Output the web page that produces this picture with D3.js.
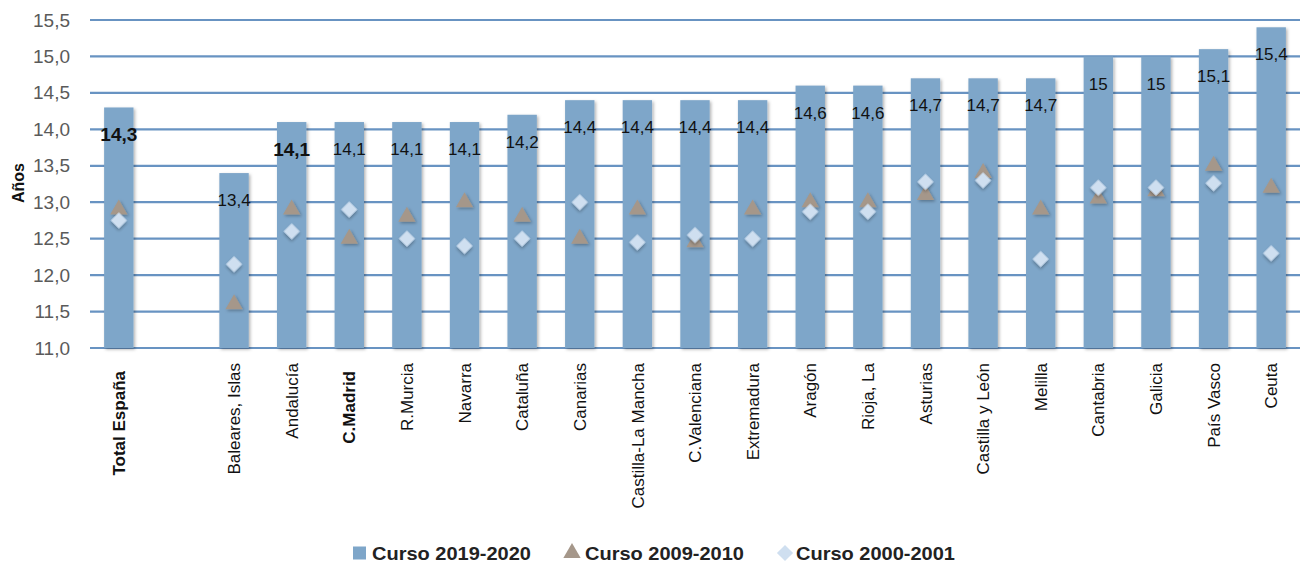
<!DOCTYPE html>
<html>
<head>
<meta charset="utf-8">
<script src="https://cdn.jsdelivr.net/npm/d3@7"></script>
<style>
  body { margin: 0; background: #fff; }
  svg { display: block; }
</style>
</head>
<body>
<div id="chart"></div>
<script>
var svgWidth = 1303;
var svgHeight = 566;

var margin = { top: 20, right: 3, bottom: 218, left: 90 };
var width = svgWidth - margin.left - margin.right;
var height = svgHeight - margin.top - margin.bottom;

// data (blank slot between Total España and the regions)
var categories = ["Total España", "", "Baleares, Islas", "Andalucía", "C.Madrid", "R.Murcia", "Navarra",
  "Cataluña", "Canarias", "Castilla-La Mancha", "C.Valenciana", "Extremadura", "Aragón", "Rioja, La",
  "Asturias", "Castilla y León", "Melilla", "Cantabria", "Galicia", "País Vasco", "Ceuta"];
var curso2019 = [14.3, null, 13.4, 14.1, 14.1, 14.1, 14.1, 14.2, 14.4, 14.4, 14.4, 14.4, 14.6, 14.6,
  14.7, 14.7, 14.7, 15, 15, 15.1, 15.4];
var curso2009 = [12.9, null, 11.6, 12.9, 12.5, 12.8, 13.0, 12.8, 12.5, 12.9, 12.45, 12.9, 13.0, 13.0,
  13.1, 13.4, 12.9, 13.05, 13.15, 13.5, 13.2];
var curso2000 = [12.75, null, 12.15, 12.6, 12.9, 12.5, 12.4, 12.5, 13.0, 12.45, 12.55, 12.5, 12.87, 12.87,
  13.28, 13.3, 12.22, 13.2, 13.2, 13.26, 12.3];
var yTicks = [11.0, 11.5, 12.0, 12.5, 13.0, 13.5, 14.0, 14.5, 15.0, 15.5];
var boldCategories = ["Total España", "C.Madrid"];
var boldValues = ["Total España", "Andalucía"];
var seriesNames = ["Curso 2019-2020", "Curso 2009-2010", "Curso 2000-2001"];

var barColor = "#7ea6c9";
var triColor = "#a5978a";
var diaColor = "#cfdff0";
var gridColor = "#6893c2";

var svg = d3.select("#chart")
  .append("svg")
  .attr("width", svgWidth)
  .attr("height", svgHeight);

var defs = svg.append("defs");
defs.append("filter").attr("id", "shadow")
  .attr("x", "-30%").attr("y", "-30%").attr("width", "160%").attr("height", "160%")
  .append("feDropShadow")
  .attr("dx", 1.5).attr("dy", 1.5).attr("stdDeviation", 1.5)
  .attr("flood-color", "#000").attr("flood-opacity", 0.3);

var chartGroup = svg.append("g")
  .attr("transform", `translate(${margin.left}, ${margin.top})`);

var x = d3.scaleBand()
  .domain(d3.range(categories.length))
  .range([0, width])
  .paddingInner(0.49)
  .paddingOuter(0.245);

var y = d3.scaleLinear()
  .domain([11, 15.5])
  .range([height, 0]);

// gridlines
chartGroup.append("g")
  .selectAll("line")
  .data(yTicks)
  .enter()
  .append("line")
  .attr("x1", 0)
  .attr("x2", width)
  .attr("y1", d => y(d))
  .attr("y2", d => y(d))
  .attr("stroke", gridColor)
  .attr("stroke-width", 2.2);

// y axis labels
var leftAxis = d3.axisLeft(y)
  .tickValues(yTicks)
  .tickSize(0)
  .tickPadding(20)
  .tickFormat(d => d3.format(".1f")(d).replace(".", ","));

var yAxis = chartGroup.append("g").call(leftAxis);
yAxis.select(".domain").remove();
yAxis.selectAll("text")
  .attr("font-family", "'Liberation Sans', Arial, sans-serif")
  .attr("font-size", 19)
  .attr("fill", "#5a5a5a");

// bars
chartGroup.append("g")
  .selectAll("rect")
  .data(curso2019.map((v, i) => ({ v: v, i: i })).filter(d => d.v !== null))
  .enter()
  .append("rect")
  .attr("x", d => x(d.i))
  .attr("width", x.bandwidth())
  .attr("y", d => y(d.v))
  .attr("height", d => height - y(d.v))
  .attr("fill", barColor)
  .attr("filter", "url(#shadow)");

// bar value labels
chartGroup.append("g")
  .selectAll("text")
  .data(curso2019.map((v, i) => ({ v: v, i: i })).filter(d => d.v !== null))
  .enter()
  .append("text")
  .attr("x", d => x(d.i) + x.bandwidth() / 2)
  .attr("y", d => y(d.v) + 27)
  .attr("dy", "0.36em")
  .attr("text-anchor", "middle")
  .attr("font-family", "'Liberation Sans', Arial, sans-serif")
  .attr("font-size", d => boldValues.includes(categories[d.i]) ? 19 : 17)
  .attr("font-weight", d => boldValues.includes(categories[d.i]) ? "bold" : "normal")
  .attr("fill", "#111")
  .text(d => String(d.v).replace(".", ","));

var triangle = d3.symbol().type(d3.symbolTriangle).size(130);
var diamond = d3.symbol().type(d3.symbolSquare).size(130);

// 2009-2010 triangles
chartGroup.append("g")
  .selectAll("path")
  .data(curso2009.map((v, i) => ({ v: v, i: i })).filter(d => d.v !== null))
  .enter()
  .append("path")
  .attr("d", triangle)
  .attr("transform", d => `translate(${x(d.i) + x.bandwidth() / 2}, ${y(d.v)})`)
  .attr("fill", triColor)
  .attr("filter", "url(#shadow)");

// 2000-2001 diamonds
chartGroup.append("g")
  .selectAll("path")
  .data(curso2000.map((v, i) => ({ v: v, i: i })).filter(d => d.v !== null))
  .enter()
  .append("path")
  .attr("d", diamond)
  .attr("transform", d => `translate(${x(d.i) + x.bandwidth() / 2}, ${y(d.v)}) rotate(45)`)
  .attr("fill", diaColor)
  .attr("filter", "url(#shadow)");

// category labels
chartGroup.append("g")
  .selectAll("text")
  .data(categories.map((c, i) => ({ c: c, i: i })).filter(d => d.c !== ""))
  .enter()
  .append("text")
  .attr("transform", d => {
    var bold = boldCategories.includes(d.c);
    return `translate(${x(d.i) + x.bandwidth() / 2}, ${height + (bold ? 23 : 15)}) rotate(-90)`;
  })
  .attr("dy", "0.36em")
  .attr("text-anchor", "end")
  .attr("font-family", "'Liberation Sans', Arial, sans-serif")
  .attr("font-size", 17)
  .attr("font-weight", d => boldCategories.includes(d.c) ? "bold" : "normal")
  .attr("fill", "#111")
  .text(d => d.c);

// y axis title
svg.append("text")
  .attr("transform", "translate(18, 183) rotate(-90)")
  .attr("dy", "0.36em")
  .attr("text-anchor", "middle")
  .attr("font-family", "'Liberation Sans', Arial, sans-serif")
  .attr("font-size", 16)
  .attr("font-weight", "bold")
  .attr("fill", "#111")
  .text("Años");

// legend
var legendX = [353, 564, 777];
var legend = svg.append("g").attr("transform", "translate(0, 553)");
seriesNames.forEach(function(name, i) {
  var item = legend.append("g").attr("transform", `translate(${legendX[i]}, 0)`);
  if (i === 0) {
    item.append("rect").attr("x", 0).attr("y", -6.5).attr("width", 13).attr("height", 13).attr("fill", barColor);
  } else if (i === 1) {
    item.append("path").attr("d", triangle).attr("transform", "translate(8, 0)").attr("fill", triColor);
  } else {
    item.append("path").attr("d", diamond).attr("transform", "translate(8, 0) rotate(45)").attr("fill", diaColor);
  }
  item.append("text")
    .attr("x", i === 0 ? 19 : (i === 1 ? 21 : 19))
    .attr("dy", "0.36em")
    .attr("font-family", "'Liberation Sans', Arial, sans-serif")
    .attr("font-size", 19)
    .attr("font-weight", "bold")
    .attr("textLength", 159)
    .attr("lengthAdjust", "spacingAndGlyphs")
    .attr("fill", "#222")
    .text(name);
});
</script>
</body>
</html>
